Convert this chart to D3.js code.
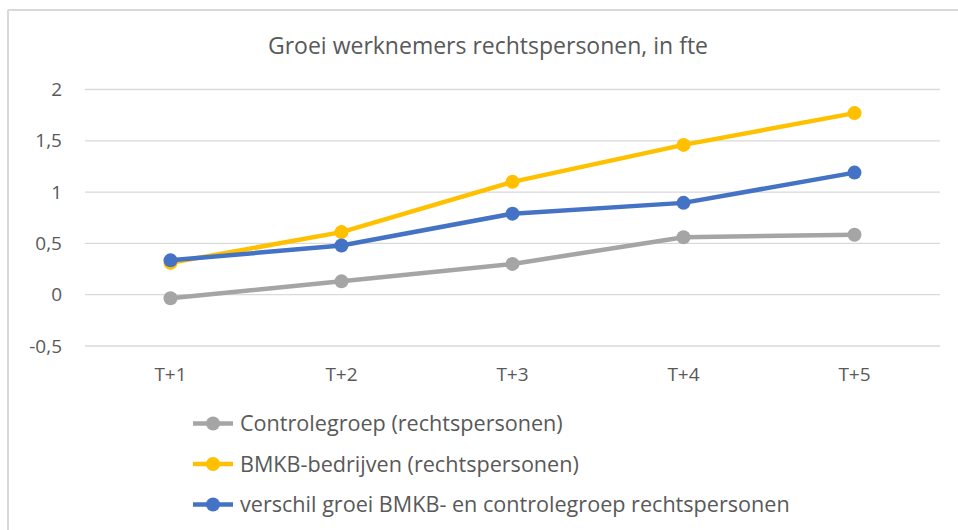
<!DOCTYPE html>
<meta charset="utf-8">
<head>
<script src="https://d3js.org/d3.v7.min.js"></script>
<style>
  body { margin: 0; background: #fff; }
  text { font-family: "Open Sans", "Liberation Sans", Arial, sans-serif; fill: #595959; }
</style>
</head>
<body>
<div id="chart"></div>
<script>

// data
var categories = ["T+1", "T+2", "T+3", "T+4", "T+5"];
var controle = [-0.035, 0.13, 0.30, 0.56, 0.585];
var bmkb = [0.31, 0.61, 1.10, 1.46, 1.77];
var verschil = [0.335, 0.48, 0.79, 0.895, 1.19];
var yTicks = [-0.5, 0, 0.5, 1, 1.5, 2];

var seriesNames = ["Controlegroep (rechtspersonen)", "BMKB-bedrijven (rechtspersonen)",
                   "verschil groei BMKB- en controlegroep rechtspersonen"];
var seriesColors = ["#a5a5a5", "#ffc000", "#4472c4"];
var series = [controle, bmkb, verschil];

var W = 958, H = 530;

var svg = d3.select("#chart").append("svg")
    .attr("width", W)
    .attr("height", H);

// chart frame (only top and left edges visible)
svg.append("line").attr("x1", 8).attr("x2", W).attr("y1", 10).attr("y2", 10)
    .attr("stroke", "#d9d9d9").attr("stroke-width", 2);
svg.append("line").attr("x1", 8).attr("x2", 8).attr("y1", 10).attr("y2", H)
    .attr("stroke", "#d9d9d9").attr("stroke-width", 2);

// title
svg.append("text")
    .attr("x", 488)
    .attr("y", 46)
    .attr("dy", "0.35em")
    .attr("text-anchor", "middle")
    .attr("font-size", "23px")
    .text("Groei werknemers rechtspersonen, in fte");

var x = d3.scaleBand()
    .domain(categories)
    .range([85, 940]);

var y = d3.scaleLinear()
    .domain([-0.5, 2])
    .range([346, 89.5]);

// gridlines
svg.append("g")
  .selectAll("line")
  .data(yTicks)
  .enter()
  .append("line")
    .attr("x1", 85)
    .attr("x2", 940)
    .attr("y1", function(d){ return y(d) })
    .attr("y2", function(d){ return y(d) })
    .attr("stroke", "#d9d9d9")
    .attr("stroke-width", 1.3);

// y labels
svg.append("g")
  .selectAll("text")
  .data(yTicks)
  .enter()
  .append("text")
    .attr("x", 62)
    .attr("y", function(d){ return y(d) })
    .attr("dy", "0.35em")
    .attr("text-anchor", "end")
    .attr("font-size", "19px")
    .text(function(d){ return String(d).replace(".", ",") });

// x labels
svg.append("g")
  .selectAll("text")
  .data(categories)
  .enter()
  .append("text")
    .attr("x", function(d){ return x(d) + x.bandwidth() / 2 })
    .attr("y", 374)
    .attr("dy", "0.35em")
    .attr("text-anchor", "middle")
    .attr("font-size", "19px")
    .text(function(d){ return d });

var line = d3.line()
    .x(function(d, i){ return x(categories[i]) + x.bandwidth() / 2 })
    .y(function(d){ return y(d) });

series.forEach(function(vals, k) {
  var g = svg.append("g");
  g.append("path")
    .datum(vals)
    .attr("d", line)
    .attr("fill", "none")
    .attr("stroke", seriesColors[k])
    .attr("stroke-width", 4.5)
    .attr("stroke-linejoin", "round");
  g.selectAll("circle")
    .data(vals)
    .enter()
    .append("circle")
      .attr("cx", function(d, i){ return x(categories[i]) + x.bandwidth() / 2 })
      .attr("cy", function(d){ return y(d) })
      .attr("r", 7)
      .attr("fill", seriesColors[k]);
});

// legend
var legend = svg.append("g")
  .selectAll("g")
  .data(seriesNames)
  .enter()
  .append("g")
    .attr("transform", function(d, i){ return "translate(0," + (423.5 + i * 40.5) + ")" });

legend.append("line")
    .attr("x1", 193).attr("x2", 233)
    .attr("stroke", function(d, i){ return seriesColors[i] })
    .attr("stroke-width", 4.5);
legend.append("circle")
    .attr("cx", 213)
    .attr("r", 7)
    .attr("fill", function(d, i){ return seriesColors[i] });
legend.append("text")
    .attr("x", 240)
    .attr("dy", "0.35em")
    .attr("font-size", "21.6px")
    .text(function(d){ return d });

</script>
</body>
